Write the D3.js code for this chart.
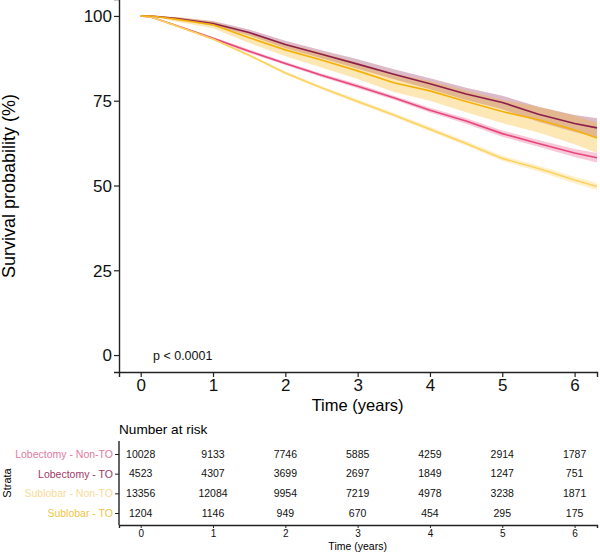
<!DOCTYPE html>
<html>
<head>
<meta charset="utf-8">
<script src="https://cdn.jsdelivr.net/npm/d3@7"></script>
<style>
  body { margin: 0; background: #fff; }
  text { font-family: "Liberation Sans", Arial, sans-serif; }
</style>
</head>
<body>
<div id="km"></div>
<script>
// data
var strata = ["Lobectomy - Non-TO", "Lobectomy - TO", "Sublobar - Non-TO", "Sublobar - TO"];
var lineColors = ["#e8457e", "#8c1d4c", "#ffd25e", "#f5b10a"];
var labelColors = ["#e27aa0", "#a53865", "#f8db98", "#f0c545"];

var times = [0, 0.15, 0.5, 1, 1.5, 2, 2.5, 3, 3.5, 4, 4.5, 5, 5.5, 6, 6.31];

var survLobNon = [100, 99.6, 97.1, 93.4, 89.6, 86, 82.5, 79.3, 75.9, 72.2, 69, 65.3, 62.4, 59.6, 58.2];
var lowLobNon  = [100, 99.4, 96.8, 93, 89.1, 85.5, 82, 78.7, 75.3, 71.5, 68.2, 64.4, 61.4, 58.4, 56.8];
var upLobNon   = [100, 99.8, 97.4, 93.8, 90.1, 86.5, 83, 79.9, 76.5, 72.9, 69.8, 66.2, 63.4, 60.8, 59.6];

var survLobTO = [100, 100, 99.2, 97.8, 95.1, 91.6, 88.7, 85.8, 82.8, 80, 77, 74.5, 71, 68.3, 67];
var lowLobTO  = [100, 100, 98.8, 97.1, 94.2, 90.5, 87.5, 84.4, 81.3, 78.4, 75.2, 72.5, 68.8, 65.8, 64.2];
var upLobTO   = [100, 100, 99.6, 98.5, 96, 92.7, 89.9, 87.2, 84.3, 81.6, 78.8, 76.5, 73.2, 70.8, 69.8];

var survSubNon = [100, 99.6, 97, 93.2, 88.4, 83.2, 78.8, 74.8, 70.8, 66.6, 62.4, 58, 55, 51.6, 49.7];
var lowSubNon  = [100, 99.5, 96.8, 92.8, 88, 82.7, 78.3, 74.2, 70.2, 65.9, 61.7, 57.2, 54.1, 50.6, 48.6];
var upSubNon   = [100, 99.7, 97.2, 93.6, 88.8, 83.7, 79.3, 75.4, 71.4, 67.3, 63.1, 58.8, 55.9, 52.6, 50.8];

var survSubTO = [100, 100, 99, 97.4, 93.6, 90, 87, 83.8, 80.3, 77.9, 74.8, 71.8, 69.4, 66.4, 64];
var lowSubTO  = [100, 100, 98.3, 96.4, 92, 88.1, 84.8, 81.4, 77.6, 75, 71.6, 68.4, 65.6, 62.2, 59.6];
var upSubTO   = [100, 100, 99.7, 98.4, 95.2, 91.9, 89.2, 86.2, 83, 80.8, 78, 75.2, 73.2, 70.6, 68.4];

var riskTimes = [0, 1, 2, 3, 4, 5, 6];
var riskLobNon = [10028, 9133, 7746, 5885, 4259, 2914, 1787];
var riskLobTO  = [4523, 4307, 3699, 2697, 1849, 1247, 751];
var riskSubNon = [13356, 12084, 9954, 7219, 4978, 3238, 1871];
var riskSubTO  = [1204, 1146, 949, 670, 454, 295, 175];

var yTicks = [0, 25, 50, 75, 100];
var pLabel = "p < 0.0001";

var series = [
  {surv: survLobNon, low: lowLobNon, up: upLobNon},
  {surv: survLobTO, low: lowLobTO, up: upLobTO},
  {surv: survSubNon, low: lowSubNon, up: upSubNon},
  {surv: survSubTO, low: lowSubTO, up: upSubTO}
];
var risk = [riskLobNon, riskLobTO, riskSubNon, riskSubTO];

// layout
var W = 600, H = 554;
var svg = d3.select("#km").append("svg")
  .attr("width", W).attr("height", H);

var x = d3.scaleLinear().domain([-0.3, 6.31]).range([119, 597]);
var y = d3.scaleLinear().domain([-5, 105]).range([372, -1]);

// bands
series.forEach(function(s, i) {
  var area = d3.area()
    .x(function(d, j) { return x(times[j]); })
    .y0(function(d, j) { return y(s.low[j]); })
    .y1(function(d, j) { return y(s.up[j]); });
  svg.append("path")
    .attr("d", area(times))
    .attr("fill", lineColors[i])
    .attr("fill-opacity", 0.3);
});

// lines
series.forEach(function(s, i) {
  var line = d3.line()
    .x(function(d, j) { return x(times[j]); })
    .y(function(d, j) { return y(s.surv[j]); });
  svg.append("path")
    .attr("d", line(times))
    .attr("fill", "none")
    .attr("stroke", lineColors[i])
    .attr("stroke-width", 1.6);
});

// axes
var yAxis = svg.append("g")
  .attr("transform", "translate(119,0)")
  .call(d3.axisLeft(y).tickValues(yTicks).tickSize(5).tickPadding(2));
var xAxis = svg.append("g")
  .attr("transform", "translate(0,372)")
  .call(d3.axisBottom(x).tickValues(riskTimes).tickFormat(d3.format("d")).tickSize(5).tickPadding(2));
[yAxis, xAxis].forEach(function(g) {
  g.select(".domain").attr("stroke", "#222").attr("stroke-width", 1.4);
  g.selectAll(".tick line").attr("stroke", "#222").attr("stroke-width", 1.2);
  g.selectAll(".tick text").attr("fill", "#111")
    .style("font-size", "17px").style("font-family", "Liberation Sans, Arial, sans-serif");
});
yAxis.selectAll(".tick text").attr("dy", "0.35em");

svg.append("text")
  .attr("transform", "translate(15,186) rotate(-90)")
  .attr("text-anchor", "middle")
  .style("font-size", "18px")
  .text("Survival probability (%)");

svg.append("text")
  .attr("x", x(3)).attr("y", 411)
  .attr("text-anchor", "middle")
  .style("font-size", "16.5px")
  .text("Time (years)");

svg.append("text")
  .attr("x", x(0.17)).attr("y", 360)
  .style("font-size", "12.5px")
  .attr("fill", "#111")
  .text(pLabel);

// risk table
svg.append("text")
  .attr("x", 119).attr("y", 434)
  .style("font-size", "13.6px")
  .text("Number at risk");

var ry = d3.scalePoint().domain(strata).range([454, 513]);

var tY = svg.append("g")
  .attr("transform", "translate(119,0)")
  .call(d3.axisLeft(ry).tickSize(4).tickPadding(2).tickSizeOuter(0));
tY.select(".domain").attr("d", "M0,441V525").attr("stroke", "#222").attr("stroke-width", 1.4);
tY.selectAll(".tick line").attr("stroke", "#222");
tY.selectAll(".tick text")
  .style("font-size", "10.5px")
  .attr("fill", function(d, i) { return labelColors[i]; });

var tX = svg.append("g")
  .attr("transform", "translate(0,525)")
  .call(d3.axisBottom(x).tickValues(riskTimes).tickFormat(d3.format("d")).tickSize(3).tickPadding(1.5));
tX.select(".domain").attr("stroke", "#222").attr("stroke-width", 1.4);
tX.selectAll(".tick line").attr("stroke", "#222");
tX.selectAll(".tick text").style("font-size", "10px").attr("fill", "#111");

risk.forEach(function(row, i) {
  svg.append("g").selectAll("text")
    .data(row)
    .join("text")
      .attr("x", function(d, j) { return x(riskTimes[j]); })
      .attr("y", ry(strata[i]))
      .attr("dy", "0.35em")
      .attr("text-anchor", "middle")
      .style("font-size", "10.5px")
      .attr("fill", "#111")
      .text(function(d) { return d; });
});

svg.append("text")
  .attr("x", x(3)).attr("y", 550)
  .attr("text-anchor", "middle")
  .style("font-size", "10.5px")
  .text("Time (years)");

svg.append("text")
  .attr("transform", "translate(11,483) rotate(-90)")
  .attr("text-anchor", "middle")
  .style("font-size", "11px")
  .text("Strata");
</script>
</body>
</html>
